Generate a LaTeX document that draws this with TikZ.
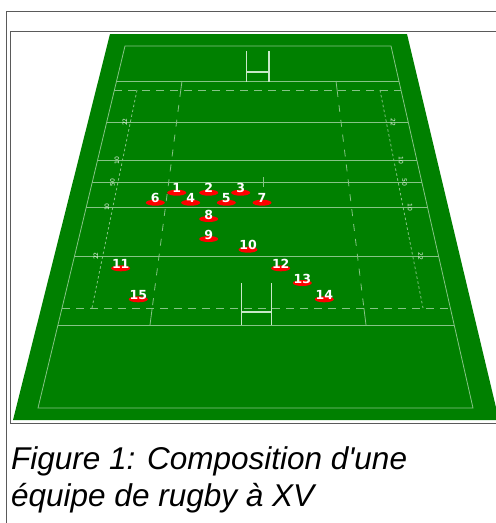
\documentclass[tikz,border=0pt]{standalone}
\usepackage{fontspec}
\setmainfont{Liberation Sans}
\newfontfamily\pitchfont{DejaVu Sans}
\newfontfamily\captionfont{Liberation Sans}[Ligatures=TeXOff]
\usetikzlibrary{shapes.geometric, calc}
\definecolor{Pitch}{HTML}{008000}
\definecolor{Chalk}{HTML}{86C486}
\definecolor{PostWhite}{HTML}{C8E8C8}
\definecolor{Jersey}{HTML}{FF0000}
\definecolor{BoxGray}{HTML}{5A5A5A}
\tikzset{
  boxline/.style={draw=BoxGray, line width=1pt},
  chalk/.style={draw=Chalk, line width=0.8pt},
  chalkdash/.style={chalk, dash pattern=on 8pt off 6pt},
  chalkdot/.style={chalk, dash pattern=on 2.5pt off 2.5pt},
  chalklong/.style={chalk, dash pattern=on 7pt off 8pt},
  post/.style={draw=PostWhite, line width=1.3pt},
  player/.style={ellipse, fill=Jersey, minimum width=19pt, minimum height=6pt, inner sep=0pt},
  shirt/.style={anchor=base, inner sep=0pt, text=white,
    font=\pitchfont\bfseries\fontsize{12.5}{12.5}\selectfont},
  yardlabel/.style={inner sep=0pt, text=white!85!Chalk,
    font=\pitchfont\fontsize{6}{6}\selectfont},
  caption/.style={anchor=base west, inner sep=0pt, font=\captionfont\itshape\fontsize{31.5}{37}\selectfont},
}

\begin{document}
\begin{tikzpicture}[x=1pt, y=-1pt]
  \useasboundingbox (0,0) rectangle (496,523);
  \fill[white] (0,0) rectangle (496,523);
  \draw[boxline] (496,11) -- (6,11) -- (6,523);
  \draw[boxline] (496,31) -- (10,31) -- (10,423) -- (496,423);
  \fill[Pitch] (110,34) -- (407,34) -- (499,420) -- (13,420) -- cycle;

  \coordinate (tlA) at (125,46);
  \coordinate (tlB) at (38,408);
  \coordinate (trA) at (391,46);
  \coordinate (trB) at (473,408);
  \draw[chalk] (tlA) -- (trA) -- (trB) -- (tlB) -- cycle;
  \foreach \y in {81,122,160,182,207,256,325}
    \draw[chalk] ($(tlA)!{(\y-46)/362}!(tlB)$) -- ($(trA)!{(\y-46)/362}!(trB)$);
  \foreach \y in {90,308}
    \draw[chalkdash] ($(tlA)!{(\y-46)/362}!(tlB)$) -- ($(trA)!{(\y-46)/362}!(trB)$);

  \draw[chalkdot] (137,90) -- (92,308);
  \draw[chalkdot] (380,90) -- (423,308);
  \draw[chalk] (182,81) -- (180.8,90);
  \draw[chalklong] (180.8,90) -- (152.2,308);
  \draw[chalk] (152.2,308) -- (150,325);
  \draw[chalk] (336,81) -- (337.1,90);
  \draw[chalklong] (337.1,90) -- (363.9,308);
  \draw[chalk] (363.9,308) -- (366,325);
  \draw[chalk] (263,177) -- (263,187);

  \draw[post] (246.7,51) -- (246.7,82) (269,51) -- (269,82) (246.7,72) -- (269,72);
  \draw[post] (241.3,283) -- (241.3,325) (271.3,283) -- (271.3,325) (241.3,312) -- (271.3,312);

  \foreach \lab/\x/\y [count=\i] in {22/125/122, 10/117/160.5, 50/112.5/182.5, 10/107/207, 22/96/256}
    \node[yardlabel, rotate=90] (mkL\i) at (\x,\y) {\lab};
  \foreach \lab/\x/\y [count=\i] in {22/393/122, 10/401/160.5, 50/404.5/182.5, 10/410/207, 22/420.5/256}
    \node[yardlabel, rotate=-90] (mkR\i) at (\x,\y) {\lab};

  \foreach \n/\x/\y in {1/176.7/192.7, 2/208.7/192.7, 3/240.7/192.7, 6/155.3/202.7,
      4/190.7/202.7, 5/226.3/202.7, 7/262/202.7, 8/208.7/219, 9/208.7/239,
      10/248/249.7, 11/120.7/268.3, 12/280.7/268.3, 13/302.3/283,
      15/138.3/299.3, 14/324.3/299.3} {
    \node[player] (p\n) at (\x,\y) {};
    \node[shirt] (n\n) at (p\n.center) {\n};
  }

  \node[caption] (cap1) at (11,469) {Figure 1: Composition d'une};
  \node[caption] (cap2) at ([yshift=-37pt]cap1.base west) {équipe de rugby à XV};
\end{tikzpicture}
\end{document}
